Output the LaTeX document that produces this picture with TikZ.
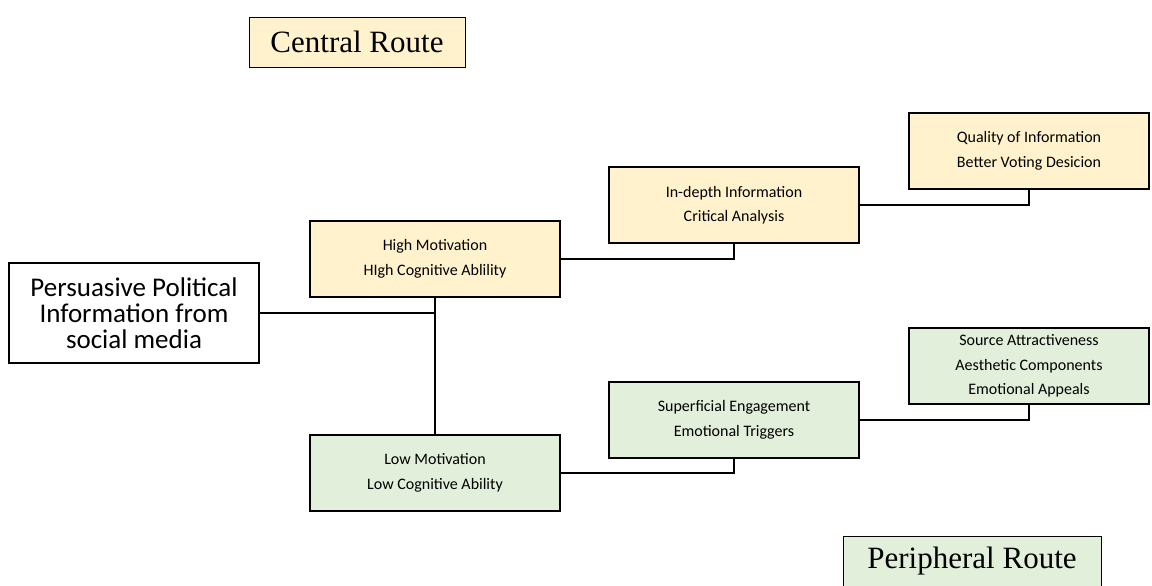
\documentclass[tikz,border=0pt]{standalone}
\usepackage{fontspec}
\setmainfont{Carlito}
\newfontfamily\routefont{Liberation Serif}
\usepackage{tikz}

\definecolor{lightgold}{HTML}{FFF2CC}
\definecolor{lightgreen}{HTML}{E2EFDA}

\begin{document}
\begin{tikzpicture}[
            x=1pt, y=-1pt,
            yellownode/.style={rectangle, draw=black, line width=2.4pt, fill=lightgold, minimum width=250pt, minimum height=76pt, inner sep=0pt, align=center, font=\fontsize{16}{24.5}\selectfont},
            greennode/.style={yellownode, fill=lightgreen},
            sourcenode/.style={rectangle, draw=black, line width=1.8pt, fill=white, minimum width=250pt, minimum height=100pt, inner sep=0pt, align=center, font=\fontsize{27}{26}\selectfont},
            routenode/.style={rectangle, draw=black, line width=0.9pt, minimum width=216pt, minimum height=50pt, inner sep=0pt, font=\routefont\fontsize{31}{31}\selectfont},
            link/.style={draw=black, line width=2.4pt}
          ]
          \useasboundingbox (0,0) rectangle (1152,586);

          %Nodes
          \node[sourcenode] at (134,313) (Persuasive) {Persuasive Political\\Information from\\social media};
          \node[yellownode] at (435,259) (High) {High Motivation\\HIgh Cognitive Ablility};
          \node[greennode] at (435,473) (Low) {Low Motivation\\Low Cognitive Ability};
          \node[yellownode] at (734,205) (InDepth) {In-depth Information\\Critical Analysis};
          \node[greennode] at (734,420) (Superficial) {Superficial Engagement\\Emotional Triggers};
          \node[yellownode, minimum width=240pt] at (1029,151) (Quality) {Quality of Information\\Better Voting Desicion};
          \node[greennode, minimum width=240pt] at (1029,366) (Attract) {Source Attractiveness\\Aesthetic Components\\Emotional Appeals};

          %Lines
          \draw[link] (Persuasive.east) -- (Persuasive.east -| High.south);
          \draw[link] (High.south) -- (Low.north);
          \draw[link] (High.east) -| (InDepth.south);
          \draw[link] (InDepth.east) -| (Quality.south);
          \draw[link] (Low.east) -| (Superficial.south);
          \draw[link] (Superficial.east) -| (Attract.south);

          %Labels
          \node[routenode, fill=lightgold] at (357,42) (Central) {Central Route};
          \node[routenode, fill=lightgreen, minimum width=258pt] at (972,561) (Peripheral) {Peripheral Route};

        \end{tikzpicture}
\end{document}
